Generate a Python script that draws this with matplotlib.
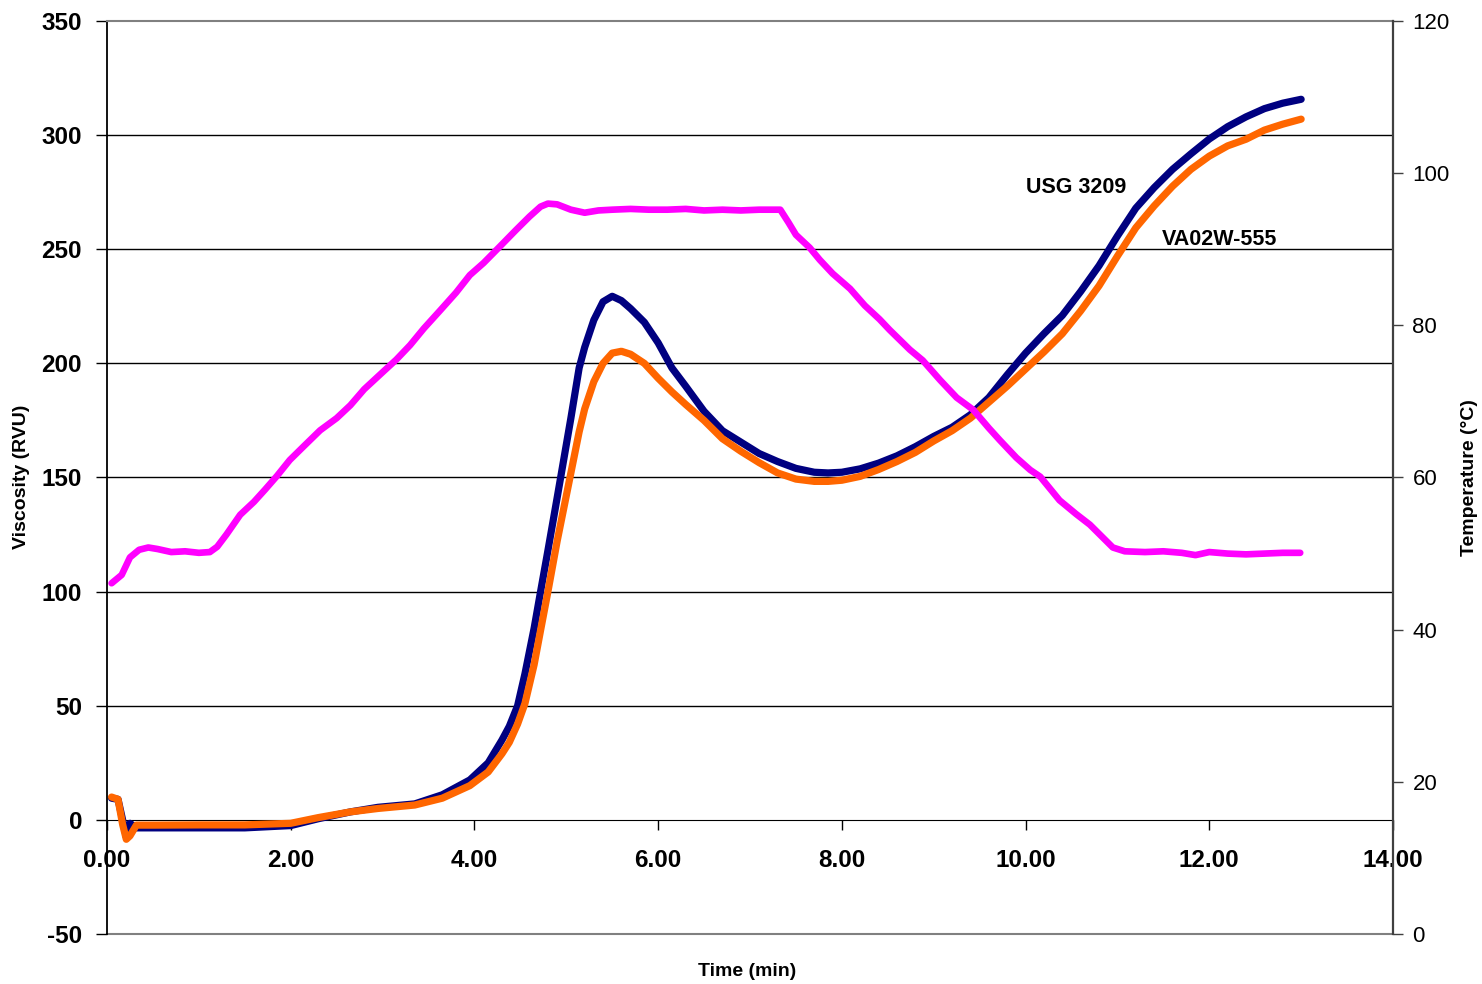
import matplotlib
matplotlib.use("Agg")
import matplotlib.pyplot as plt

plt.rcParams['font.family'] = ['Liberation Sans', 'DejaVu Sans']
plt.rcParams['axes.unicode_minus'] = False

# viscosity curves (RVU)
time_min = [0.05, 0.12, 0.17, 0.21, 0.25, 0.32, 0.5, 1.0, 1.5, 2.0, 2.3, 2.65, 2.95, 3.35,
            3.65, 3.95, 4.15, 4.3, 4.38, 4.47, 4.55, 4.65, 4.72, 4.8, 4.9, 5.05, 5.14, 5.2,
            5.3, 5.4, 5.5, 5.6, 5.7, 5.85, 6.0, 6.15, 6.3, 6.5, 6.7, 6.9, 7.1, 7.3, 7.5,
            7.7, 7.85, 8.0, 8.2, 8.4, 8.6, 8.8, 9.0, 9.2, 9.4, 9.6, 9.8, 10.0, 10.2, 10.4,
            10.6, 10.8, 11.0, 11.2, 11.4, 11.6, 11.8, 12.0, 12.2, 12.4, 12.6, 12.8, 13.0]
usg_3209 = [9.5, 9, 0, -7.5, -1.5, -3.5, -3.5, -3.5, -3.5, -2.5, 0.5, 3.5, 5.5, 7,
            11, 17.5, 25, 35, 41, 50, 64, 84, 100, 118, 141, 176, 198, 207,
            219, 227, 229.4, 227.5, 224, 218, 209, 198, 190, 179, 170.5, 165.5, 160.5, 157, 154,
            152.3, 152, 152.3, 153.8, 156.3, 159.5, 163.5, 168, 172, 177.5, 185, 195, 204.5, 213, 221,
            231.5, 242.8, 255.8, 268, 277, 285, 291.8, 298.3, 303.7, 308, 311.6, 314, 315.7]
va02w_555 = [10, 9, -2, -8.5, -7, -2.3, -2.3, -2.2, -2.2, -1.5, 1, 3.5, 5, 6.5,
             9.5, 15, 21, 29, 34, 42, 51, 68, 83, 100, 122, 152, 170, 180,
             192, 200, 204.5, 205.3, 204, 200, 193.5, 187.5, 182, 175, 167, 161.5, 156.5, 152, 149.3,
             148.3, 148.3, 148.8, 150.5, 153.5, 157, 161, 166, 170.5, 176, 183, 190, 197.5, 205, 213,
             223, 234, 247, 259.4, 269, 277.6, 285, 290.8, 295.3, 298.2, 302.2, 304.8, 307]

# temperature profile (deg C)
temp_time = [0.05, 0.16, 0.25, 0.35, 0.45, 0.55, 0.7, 0.85, 1.0, 1.12, 1.2, 1.3, 1.45, 1.6,
             1.72, 1.85, 1.99, 2.15, 2.32, 2.5, 2.65, 2.8, 2.97, 3.15, 3.3, 3.45, 3.63, 3.8,
             3.95, 4.1, 4.28, 4.45, 4.6, 4.72, 4.8, 4.9, 5.05, 5.2, 5.35, 5.5, 5.7, 5.9,
             6.1, 6.3, 6.5, 6.7, 6.9, 7.1, 7.33, 7.42, 7.5, 7.65, 7.76, 7.9, 8.09, 8.25,
             8.41, 8.52, 8.74, 8.88, 9.07, 9.25, 9.43, 9.6, 9.72, 9.9, 10.05, 10.16, 10.37,
             10.55, 10.7, 10.85, 10.95, 11.08, 11.3, 11.5, 11.7, 11.85, 12.0, 12.2, 12.4,
             12.6, 12.8, 12.99]
temperature = [46.1, 47.2, 49.5, 50.5, 50.8, 50.6, 50.2, 50.3, 50.1, 50.2, 50.9, 52.5, 55.1, 56.8,
               58.4, 60.2, 62.3, 64.2, 66.2, 67.8, 69.5, 71.6, 73.5, 75.5, 77.4, 79.6, 82, 84.3,
               86.6, 88.2, 90.4, 92.5, 94.3, 95.6, 96.0, 95.9, 95.2, 94.8, 95.1, 95.2, 95.3, 95.2,
               95.2, 95.3, 95.1, 95.2, 95.1, 95.2, 95.2, 93.5, 91.9, 90.2, 88.6, 86.8, 84.8, 82.6,
               80.8, 79.4, 76.8, 75.4, 72.8, 70.5, 68.9, 66.5, 64.9, 62.6, 61, 60.1, 57,
               55.2, 53.8, 52, 50.8, 50.3, 50.2, 50.3, 50.1, 49.8, 50.2, 50.0, 49.9,
               50.0, 50.1, 50.1]

visc_ticks = [-50, 0, 50, 100, 150, 200, 250, 300, 350]
temp_ticks = [0, 20, 40, 60, 80, 100, 120]
time_ticks = [0, 2, 4, 6, 8, 10, 12, 14]

W, H = 1482, 984
fig = plt.figure(figsize=(W / 100, H / 100), dpi=100)
ax = fig.add_axes([107 / W, 1 - 934 / H, (1393 - 107) / W, (934 - 21) / H])

ax.set_xlim(0, 14)
ax.set_ylim(-50, 350)

# horizontal gridlines
for v in visc_ticks[2:-1]:
    ax.axhline(v, color='black', lw=1, zorder=1)
ax.axhline(-50, color='#808080', lw=1.5, clip_on=False, zorder=1)

ax.plot(time_min, usg_3209, color='#000080', lw=5.2, solid_joinstyle='round',
        solid_capstyle='round', zorder=3)
ax.plot(time_min, va02w_555, color='#FF6600', lw=5.2, solid_joinstyle='round',
        solid_capstyle='round', zorder=4)

ax.spines['bottom'].set_position(('data', 0))
ax.spines['bottom'].set_color('black')
ax.spines['top'].set_color('#808080')
ax.spines['top'].set_linewidth(1.5)
ax.spines['left'].set_linewidth(1.3)
ax.spines['right'].set_visible(False)

ax.set_xticks(time_ticks)
ax.set_xticklabels([f"{t:.2f}" for t in time_ticks])
ax.set_yticks(visc_ticks)
ax.tick_params(axis='x', direction='out', length=7, width=1, pad=14, labelsize=17.5)
ax.tick_params(axis='y', direction='out', length=8, width=1, pad=10, labelsize=17.5)
for lab in ax.get_xticklabels() + ax.get_yticklabels():
    lab.set_fontweight('bold')

ax.text(10.01, 277, "USG 3209", fontsize=15.5, fontweight='bold', va='center', ha='left')
ax.text(11.48, 254.4, "VA02W-555", fontsize=15.5, fontweight='bold', va='center', ha='left')

ax2 = ax.twinx()
ax2.set_ylim(0, 120)
ax2.plot(temp_time, temperature, color='#FF00FF', lw=4.8, solid_joinstyle='round',
         solid_capstyle='round')
ax2.set_yticks(temp_ticks)
for s in ['top', 'bottom', 'left']:
    ax2.spines[s].set_visible(False)
ax2.spines['right'].set_color('#404040')
ax2.spines['right'].set_linewidth(1.6)
ax2.tick_params(axis='y', direction='out', length=7, width=1, pad=7, labelsize=16,
                color='#404040')

fig.text(22 / W, 1 - 477 / H, "Viscosity (RVU)", rotation=90, fontsize=14,
         fontweight='bold', ha='center', va='center')
fig.text(1469 / W, 1 - 478 / H, "Temperature (°C)", rotation=90, fontsize=14,
         fontweight='bold', ha='center', va='center')
fig.text(747 / W, 1 - 972 / H, "Time (min)", fontsize=14, fontweight='bold',
         ha='center', va='center')

fig.savefig("out.png", dpi=100)
